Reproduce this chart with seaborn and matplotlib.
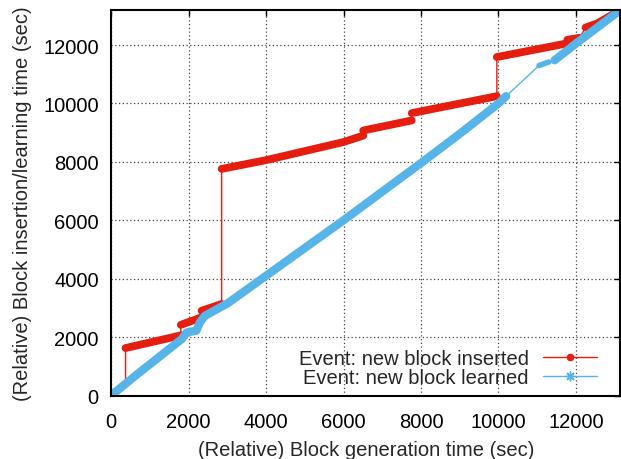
import matplotlib
matplotlib.use("Agg")
import matplotlib.pyplot as plt
import seaborn as sns
import pandas as pd
from matplotlib.lines import Line2D

sns.set_theme(style="white")
plt.rcParams['font.family'] = ['Liberation Sans', 'DejaVu Sans']

# ---- data ----
# "inserted" series: breakpoints; seg = id of the dense run each point belongs to
ins_x = [0, 372, 372, 1800, 1800, 2335, 2335, 2853, 2853, 4000, 6000, 6510, 6510,
         7762, 7762, 9960, 9960, 11740, 11780, 12100, 12250, 12550, 13150]
ins_y = [0, 380, 1625, 2060, 2420, 2677, 2903, 3133, 7760, 8060, 8680, 8900, 9075,
         9420, 9670, 10250, 11590, 12050, 12180, 12250, 12600, 12740, 13200]
ins_seg = [0, 0, 1, 1, 2, 2, 3, 3, 4, 4, 4, 4, 5,
           5, 6, 6, 7, 7, 8, 8, 9, 9, 9]

# "learned" series
lrn_x = [0, 600, 1200, 1820, 1950, 2200, 2290, 2420, 3000, 4000, 5000, 6000, 7000,
         8000, 9000, 10000, 10200, 11050, 11300, 11450, 12000, 12600, 13150]
lrn_y = [0, 650, 1280, 1930, 2160, 2220, 2500, 2730, 3150, 4100, 5050, 6000, 6980,
         7960, 8960, 10000, 10250, 11300, 11420, 11480, 12050, 12650, 13200]
lrn_seg = [0, 0, 0, 0, 0, 0, 0, 0, 0, 0, 0, 0, 0,
           0, 0, 0, 0, 1, 1, 2, 2, 2, 2]

labels = ["Event: new block inserted", "Event: new block learned"]
xticks = [0, 2000, 4000, 6000, 8000, 10000, 12000]
yticks = [0, 2000, 4000, 6000, 8000, 10000, 12000]

RED = "#e51e10"
BLUE = "#56b4e9"
FS = 14.5

ins = pd.DataFrame({"x": ins_x, "y": ins_y, "seg": ins_seg})
lrn = pd.DataFrame({"x": lrn_x, "y": lrn_y, "seg": lrn_seg})

fig = plt.figure(figsize=(6.21, 4.60), dpi=100)
ax = fig.add_axes([0.179, 0.138, 0.820, 0.838])

# red: thin connecting line, then dense runs as thick band
sns.lineplot(data=ins, x="x", y="y", sort=False, estimator=None, color=RED,
             lw=1.0, ax=ax, legend=False)
sns.lineplot(data=ins[ins.seg != 0], x="x", y="y", units="seg", sort=False,
             estimator=None, color=RED, lw=5.6, ax=ax, legend=False,
             solid_capstyle="round")

# blue: thin line, dense runs thick band
sns.lineplot(data=lrn, x="x", y="y", sort=False, estimator=None, color=BLUE,
             lw=1.0, ax=ax, legend=False)
sns.lineplot(data=lrn[lrn.seg != 1], x="x", y="y", units="seg", sort=False,
             estimator=None, color=BLUE, lw=6.0, ax=ax, legend=False,
             solid_capstyle="round")
sns.lineplot(data=lrn[lrn.seg == 1], x="x", y="y", sort=False,
             estimator=None, color=BLUE, lw=4.0, ax=ax, legend=False,
             solid_capstyle="round")

ax.set_xlim(0, 13150)
ax.set_ylim(0, 13200)
ax.set_xticks(xticks)
ax.set_yticks(yticks)
ax.set_xticklabels([str(t) for t in xticks])
ax.set_yticklabels([str(t) for t in yticks])

ax.grid(True, color="#444444", linestyle=(0, (1, 2)), lw=0.9)
ax.set_axisbelow(True)
for s in ax.spines.values():
    s.set_color("black")
    s.set_linewidth(1.5)
    s.set_visible(True)
ax.tick_params(direction="in", length=4.5, width=1.0, colors="black",
               top=True, right=True, labelsize=FS)
ax.tick_params(axis="y", pad=9)
ax.tick_params(axis="x", pad=12)

ax.set_xlabel("(Relative) Block generation time (sec)", fontsize=FS, labelpad=6)
ax.set_ylabel("(Relative) Block insertion/learning time (sec)", fontsize=FS, labelpad=8)

handles = [
    Line2D([], [], color=RED, lw=1.0, marker="o", ms=4.5, mec=RED, mfc=RED),
    Line2D([], [], color=BLUE, lw=1.0, marker=(8, 2, 0), ms=7, mec=BLUE, mew=1.0),
]
leg = ax.legend(handles, labels, loc="center right", bbox_to_anchor=(0.954, 0.0716),
                frameon=False, markerfirst=False, fontsize=FS, handlelength=2.7,
                handletextpad=0.68, labelspacing=0.0, borderpad=0, borderaxespad=0,
                numpoints=1)
for col in leg._legend_handle_box.get_children():
    col.align = "right"

fig.savefig("out.png", dpi=100)
